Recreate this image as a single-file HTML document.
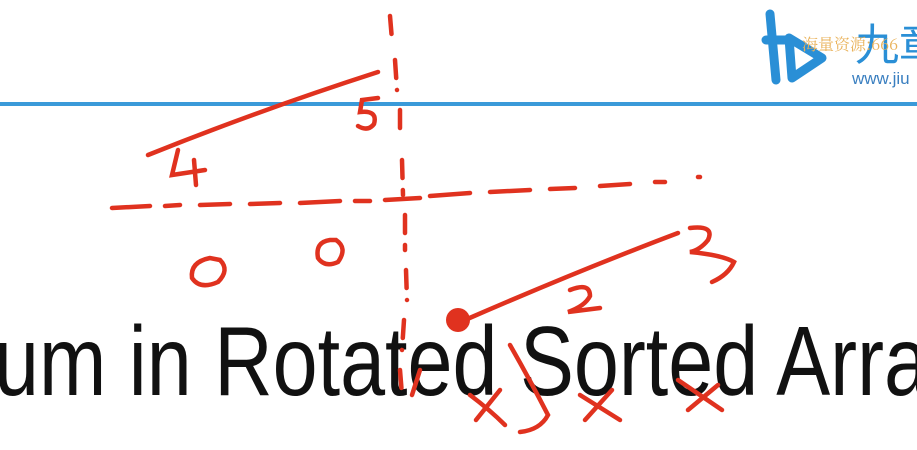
<!DOCTYPE html>
<html><head><meta charset="utf-8"><style>
html,body{margin:0;padding:0;background:#fff;width:917px;height:450px;overflow:hidden}
svg{display:block}
</style></head><body>
<svg width="917" height="450" viewBox="0 0 917 450">
<rect width="917" height="450" fill="#ffffff"/>
<g>
<path d="M770 14 L776 80 M766 40 L790 40 M789 38 L792 78 L822 58 Z" stroke="#2a8fd6" stroke-width="9" fill="none" stroke-linejoin="round" stroke-linecap="round"/>
<text x="855" y="60" font-family="Noto Sans CJK SC, sans-serif" font-size="44" fill="#2a8fd6">九章</text>
<text x="852" y="84" font-family="Liberation Sans, sans-serif" font-size="17" fill="#3a7fc0">www.jiu</text>
<text x="802" y="50" font-family="Noto Serif CJK SC, serif" font-size="16" fill="#e9b25a">海量资源:666</text>
</g>
<rect x="0" y="102" width="917" height="4" fill="#3a9ad9"/>
<text x="-6" y="395" font-family="Liberation Sans, sans-serif" font-size="98" fill="#111" textLength="935" lengthAdjust="spacingAndGlyphs">um in Rotated Sorted Arra</text>
<g stroke="#e0321f" stroke-width="4.5" fill="none" stroke-linecap="round">
<path d="M390 16 L392 40 M395 60 L397 90 M400 110 L400 140 M402 160 L403 195 M405 215 L405 250 M406 270 L407 300 M404 320 L402 350 M400 370 L402 395" stroke-dasharray="18 12"/>
<path d="M148 155 Q260 110 378 72"/>
<path d="M378 98 L362 100 L360 112 Q378 110 374 124 Q368 132 358 126"/>
<path d="M178 150 L172 175 L205 170 M194 160 L196 185"/>
<path d="M112 208 L150 206 M165 206 L180 205 M200 205 L230 204 M250 204 L280 203 M300 203 L340 201 M355 201 L370 201 M385 200 L420 198 M430 196 L470 193 M490 192 L530 190 M550 189 L575 188 M600 186 L630 184 M655 182 L665 182 M698 177 L700 177"/>
<path d="M210 258 Q190 262 192 278 Q200 290 218 282 Q230 270 220 260 Z"/>
<path d="M330 240 Q315 242 318 258 Q325 268 338 262 Q348 248 336 240 Z"/>
<path d="M465 320 Q580 270 678 233"/>
<path d="M690 228 Q715 225 708 240 Q700 250 690 252 Q722 255 734 262 Q728 275 712 282"/>
<path d="M570 290 Q590 282 590 296 Q585 306 568 312 L600 308"/>
<path d="M476 420 L500 390 M470 395 Q490 410 505 425"/>
<path d="M585 420 L612 390 M580 395 L620 420"/>
<path d="M688 410 L718 385 M678 380 Q700 395 722 410"/>
<path d="M510 345 Q530 380 548 415 Q540 430 520 432"/>
<path d="M420 370 L412 395"/>
</g>
<circle cx="458" cy="320" r="12" fill="#e0321f"/>
</svg>
</body></html>
